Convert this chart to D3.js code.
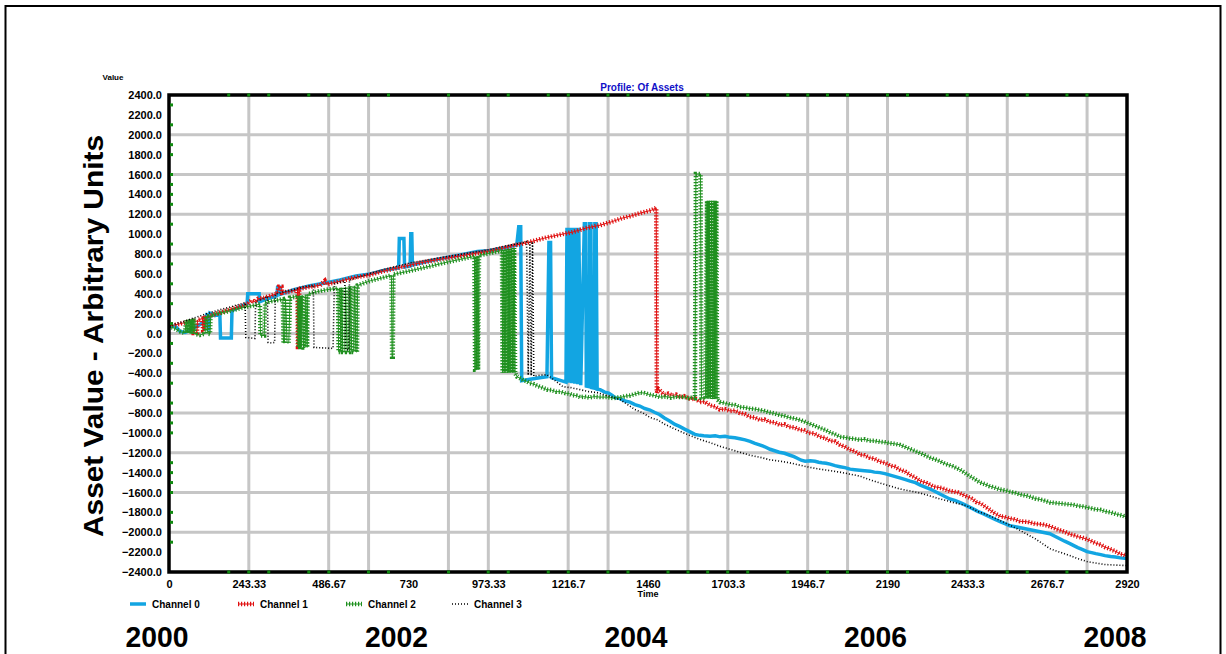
<!DOCTYPE html>
<html><head><meta charset="utf-8">
<script src="https://cdn.jsdelivr.net/npm/d3@7/dist/d3.min.js"></script>
<style>body{margin:0;background:#fff;} svg{display:block;font-family:"Liberation Sans",Arial,sans-serif;}</style>
</head><body>
<svg id="c" width="1226" height="654"></svg>
<script>
// ---------- DATA ----------
const xTickValues = [0,243.33,486.67,730,973.33,1216.67,1460,1703.33,1946.67,2190,2433.33,2676.67,2920];
const xTickLabels = ["0","243.33","486.67","730","973.33","1216.7","1460","1703.3","1946.7","2190","2433.3","2676.7","2920"];
const yTickValues = [-2400,-2200,-2000,-1800,-1600,-1400,-1200,-1000,-800,-600,-400,-200,0,200,400,600,800,1000,1200,1400,1600,1800,2000,2200,2400];
const hGridValues = [-2000,-1600,-1200,-800,-400,0,400,800,1200,1600,2000];
const vGridDays = [243.3,486.7,608.3,851.7,973.3,1216.7,1338.3,1581.7,1703.3,1946.7,2068.3,2190,2433.3,2555,2798.3];
const minorXDays = [182,243,304,426,487,608,669,852,973,1034,1156,1217,1338,1399,1521,1582,1642,1703,1764,1886,1947,2007,2068,2190,2251,2372,2433,2555,2616,2737,2798];
const minorYValues = [2300,2100,1900,1800,1600,1500,1400,1300,1100,900,700,500,300,100,-100,-300,-500,-700,-800,-900,-1000,-1300,-1400,-1500,-1600,-1800,-1900,-2100];
const yearLabels = ["2000","2002","2004","2006","2008"];
const yearDays = [0,730,1460,2190,2920];
const seriesNames = ["Channel 0","Channel 1","Channel 2","Channel 3"];

const blueData = [[0,75],[20,70],[34,20],[49,10],[64,30],[79,60],[94,90],[110,120],[116,205],[120,30],[125,205],[140,180],[155,200],[157,-45],[190,-45],[192,230],[210,260],[232,290],[238,300],[240,400],[275,400],[277,320],[300,350],[329,380],[331,465],[338,465],[340,395],[380,440],[430,480],[480,510],[521,540],[570,580],[613,600],[660,640],[700,660],[702,955],[716,955],[718,670],[735,680],[737,1005],[740,1005],[742,690],[780,720],[830,755],[887,790],[940,825],[978,835],[1020,860],[1060,890],
[1066,1075],[1072,1075],[1075,-475],[1100,-460],[1130,-445],[1152,-435],[1158,915],[1163,915],[1166,-445],[1200,-480],[1210,-490],
[1213,1065],[1219,-495],[1222,1065],[1228,-500],[1231,1065],[1237,-505],[1240,1065],[1246,-510],[1249,1065],[1255,-520],
[1266,1105],[1270,1105],[1272,-530],[1280,-535],[1282,1105],[1286,1105],[1288,-545],[1296,-550],[1298,1105],[1302,1105],[1305,-560],
[1314,-565],[1328,-590],[1340,-600],[1352,-625],[1359,-645],[1375,-655],[1390,-680],[1405,-690],[1420,-715],[1435,-730],[1450,-755],[1466,-770],[1481,-795],[1495,-815],[1510,-850],[1526,-880],[1542,-915],[1556,-935],[1570,-960],[1588,-990],[1603,-1015],[1618,-1025],[1630,-1030],[1649,-1035],[1665,-1030],[1680,-1040],[1695,-1035],[1710,-1045],[1725,-1050],[1740,-1060],[1756,-1070],[1771,-1085],[1786,-1105],[1800,-1120],[1816,-1140],[1832,-1165],[1846,-1180],[1860,-1195],[1876,-1205],[1893,-1225],[1905,-1240],[1915,-1255],[1927,-1275],[1939,-1285],[1955,-1280],[1969,-1285],[1980,-1295],[1990,-1300],[2003,-1305],[2015,-1315],[2030,-1330],[2045,-1340],[2060,-1350],[2076,-1365],[2090,-1370],[2105,-1375],[2120,-1380],[2137,-1385],[2150,-1395],[2167,-1400],[2182,-1410],[2198,-1425],[2214,-1440],[2230,-1455],[2245,-1470],[2259,-1485],[2275,-1500],[2290,-1525],[2305,-1545],[2320,-1565],[2335,-1590],[2350,-1615],[2365,-1640],[2380,-1665],[2395,-1680],[2410,-1700],[2420,-1715],[2432,-1735],[2448,-1760],[2465,-1790],[2483,-1815],[2502,-1845],[2518,-1870],[2535,-1895],[2550,-1915],[2563,-1935],[2580,-1945],[2595,-1955],[2610,-1965],[2625,-1975],[2640,-1985],[2655,-1995],[2670,-2005],[2685,-2015],[2700,-2040],[2715,-2065],[2730,-2090],[2746,-2115],[2758,-2135],[2770,-2155],[2785,-2175],[2798,-2195],[2812,-2205],[2825,-2215],[2840,-2225],[2853,-2235],[2870,-2245],[2885,-2250],[2900,-2258],[2920,-2265]];

const redData = [[0,75],[30,95],[55,115],[73,125],[75,5],[85,5],[87,135],[102,150],[104,30],[108,30],[110,160],[140,195],[170,225],[200,255],[226,280],[240,300],[250,330],[262,320],[272,350],[290,360],[310,380],[329,400],[335,470],[343,470],[345,410],[370,425],[392,440],[393,-135],[396,-135],[397,450],[430,470],[460,485],[475,530],[480,495],[521,525],[560,560],[613,590],[650,625],[704,665],[750,700],[796,730],[840,755],[887,780],[930,805],[978,830],[1020,860],[1050,885],[1079,905],[1110,930],[1150,965],[1192,995],[1230,1020],[1270,1060],[1314,1090],[1350,1125],[1380,1160],[1405,1180],[1440,1215],[1470,1240],[1485,1265],
[1487,-595],[1492,-560],[1497,-575],[1505,-600],[1512,-615],[1522,-605],[1535,-625],[1546,-615],[1558,-640],[1570,-630],[1590,-660],[1604,-655],[1618,-690],[1632,-685],[1650,-725],[1664,-735],[1679,-765],[1694,-760],[1710,-780],[1725,-775],[1740,-800],[1755,-810],[1770,-840],[1785,-845],[1801,-870],[1815,-865],[1830,-890],[1846,-895],[1862,-920],[1876,-915],[1890,-940],[1906,-945],[1923,-970],[1936,-975],[1950,-1000],[1966,-1005],[1984,-1040],[2000,-1050],[2015,-1080],[2030,-1085],[2045,-1120],[2060,-1140],[2075,-1170],[2090,-1185],[2106,-1220],[2120,-1225],[2135,-1250],[2150,-1260],[2167,-1290],[2182,-1300],[2198,-1330],[2212,-1340],[2228,-1370],[2244,-1390],[2260,-1425],[2275,-1450],[2290,-1485],[2310,-1505],[2330,-1540],[2355,-1555],[2380,-1585],[2405,-1600],[2432,-1640],[2446,-1660],[2460,-1695],[2474,-1710],[2487,-1740],[2498,-1765],[2510,-1795],[2520,-1815],[2533,-1840],[2546,-1845],[2560,-1860],[2577,-1870],[2594,-1890],[2617,-1895],[2640,-1915],[2662,-1920],[2685,-1940],[2700,-1960],[2715,-1980],[2730,-1995],[2746,-2020],[2758,-2030],[2770,-2045],[2784,-2055],[2798,-2070],[2812,-2090],[2825,-2110],[2840,-2125],[2853,-2150],[2866,-2165],[2880,-2185],[2890,-2200],[2899,-2220],[2910,-2225],[2920,-2240]];

const greenData = [[0,75],[18,50],[34,20],[49,5],[52,135],[56,5],[60,140],[64,0],[68,145],[72,0],[76,150],[79,-5],[94,-15],[110,0],[112,170],[116,170],[118,0],[125,-5],[127,180],[140,195],[155,205],[170,215],[200,240],[230,265],[262,285],[277,295],[279,-20],[290,-20],[293,310],[320,330],[347,345],[349,-95],[352,-95],[355,350],[360,-95],[365,-95],[369,360],[393,375],[394,-135],[397,-135],[399,380],[400,-135],[404,-135],[406,385],[410,-140],[415,-140],[417,390],[421,-140],[423,395],[450,420],[480,440],[515,455],[517,-185],[523,-185],[525,460],[530,-185],[536,-185],[538,470],[543,-185],[550,-185],[552,475],[557,-185],[563,-185],[565,480],[570,-185],[573,-185],[575,485],
[613,530],[650,560],[678,585],[680,-235],[682,-235],[684,595],[720,620],[760,650],[800,680],[850,720],[900,755],[931,775],[933,-365],[937,-365],[939,780],[942,-365],[945,785],[980,810],[1015,835],
[1017,-395],[1020,840],[1024,-395],[1028,845],[1032,-395],[1036,850],[1040,-395],[1044,855],[1048,-395],[1052,860],[1055,-400],
[1061,-435],[1070,-450],[1080,-470],[1090,-480],[1100,-500],[1112,-510],[1125,-530],[1138,-545],[1152,-565],[1166,-570],[1180,-585],[1193,-585],[1207,-600],[1220,-605],[1230,-620],[1242,-625],[1253,-640],[1266,-635],[1280,-645],[1297,-635],[1314,-640],[1334,-640],[1353,-650],[1367,-645],[1380,-640],[1392,-630],[1405,-625],[1420,-610],[1436,-595],[1450,-600],[1465,-615],[1481,-625],[1497,-640],[1513,-635],[1530,-645],[1545,-635],[1558,-640],[1572,-640],[1585,-650],[1595,-645],[1603,-650],
[1606,1605],[1620,1605],[1623,-650],[1635,-655],[1640,1335],[1643,-655],[1647,1335],[1650,-655],[1654,1335],[1657,-660],[1661,1335],[1664,-660],[1668,1335],[1671,-665],
[1679,-690],[1694,-700],[1710,-715],[1725,-720],[1740,-740],[1755,-745],[1770,-755],[1785,-760],[1801,-770],[1815,-780],[1830,-795],[1846,-805],[1862,-820],[1876,-830],[1890,-845],[1906,-855],[1923,-870],[1936,-885],[1950,-905],[1966,-925],[1984,-950],[2000,-970],[2015,-995],[2030,-1015],[2045,-1040],[2060,-1045],[2075,-1055],[2090,-1060],[2106,-1070],[2120,-1065],[2135,-1080],[2150,-1080],[2167,-1090],[2182,-1095],[2198,-1105],[2212,-1110],[2228,-1120],[2250,-1150],[2275,-1185],[2298,-1215],[2320,-1250],[2342,-1275],[2365,-1310],[2388,-1335],[2411,-1370],[2425,-1400],[2440,-1435],[2456,-1465],[2472,-1500],[2486,-1515],[2500,-1535],[2516,-1550],[2533,-1570],[2550,-1580],[2565,-1595],[2580,-1605],[2594,-1620],[2617,-1635],[2640,-1660],[2662,-1675],[2685,-1700],[2700,-1705],[2715,-1710],[2730,-1715],[2746,-1720],[2758,-1725],[2770,-1735],[2784,-1740],[2798,-1750],[2812,-1760],[2825,-1770],[2840,-1775],[2853,-1790],[2870,-1800],[2890,-1820],[2905,-1830],[2920,-1850]];

const blackData = [[0,75],[20,100],[45,120],[70,150],[94,175],[120,205],[150,235],[180,260],[210,290],[232,310],
[234,-40],[250,-45],[262,-50],[264,320],[285,350],[300,375],[302,-90],[312,-95],[322,-90],[324,395],
[350,420],[380,440],[410,470],[440,485],[442,-140],[470,-145],[500,-150],[504,500],
[520,515],[536,525],[538,-160],[548,-165],[550,535],
[580,570],[613,605],[650,640],[680,665],[704,685],[740,715],[770,730],[796,745],[830,765],[860,780],[887,795],[920,815],[950,830],[978,845],[1010,870],[1040,890],[1079,915],[1090,925],
[1095,-420],[1100,920],[1104,-425],[1108,925],[1112,-430],
[1130,-420],[1152,-415],[1175,-470],[1201,-535],[1225,-545],[1253,-565],[1280,-585],[1305,-595],[1340,-630],[1375,-665],[1400,-720],[1420,-765],[1445,-800],[1466,-845],[1490,-870],[1512,-915],[1535,-950],[1558,-985],[1590,-1030],[1618,-1065],[1650,-1100],[1679,-1135],[1710,-1165],[1740,-1195],[1770,-1225],[1801,-1245],[1830,-1270],[1862,-1285],[1890,-1300],[1923,-1325],[1950,-1345],[1984,-1365],[2015,-1380],[2045,-1395],[2075,-1415],[2106,-1435],[2135,-1470],[2167,-1505],[2198,-1535],[2228,-1565],[2260,-1585],[2289,-1605],[2320,-1635],[2350,-1665],[2390,-1700],[2432,-1735],[2465,-1790],[2502,-1835],[2545,-1900],[2585,-1965],[2615,-2020],[2640,-2065],[2665,-2120],[2685,-2165],[2715,-2200],[2746,-2235],[2770,-2265],[2798,-2295],[2825,-2310],[2853,-2325],[2885,-2330],[2920,-2335]];

// ---------- CHART ----------
const svg = d3.select("#c");
const L = 169, R = 1127, T = 95, B = 572;
const x = d3.scaleLinear().domain([0, 2920]).range([L, R]);
const y = d3.scaleLinear().domain([-2400, 2400]).range([B, T]);

// outer frame
svg.append("rect").attr("x", 5.5).attr("y", 6).attr("width", 1215).attr("height", 700)
  .attr("fill", "none").attr("stroke", "#000").attr("stroke-width", 2);

// grid
const grid = svg.append("g");
grid.selectAll(".h").data(hGridValues).join("line")
  .attr("x1", L).attr("x2", R).attr("y1", d => y(d)).attr("y2", d => y(d))
  .attr("stroke", "#c6c6c6").attr("stroke-width", 3);
grid.selectAll(".v").data(vGridDays).join("line")
  .attr("y1", T).attr("y2", B).attr("x1", d => x(d)).attr("x2", d => x(d))
  .attr("stroke", "#c6c6c6").attr("stroke-width", 3);

// clip
svg.append("clipPath").attr("id", "clip").append("rect")
  .attr("x", L).attr("y", T).attr("width", R - L).attr("height", B - T);

const line = d3.line().x(d => x(d[0])).y(d => y(d[1]));
const plot = svg.append("g").attr("clip-path", "url(#clip)");

const styles = [
  [{stroke: "#12a5e2", w: 3.5, dash: null}],
  [{stroke: "#e01010", w: 1, dash: null}, {stroke: "#e01010", w: 4.5, dash: "1.2,1.8"}],
  [{stroke: "#2a9a2a", w: 1, dash: null}, {stroke: "#1f8f1f", w: 4.5, dash: "1.2,1.8"}],
  [{stroke: "#000", w: 1.6, dash: "1,2"}]
];
const allData = [blueData, redData, greenData, blackData];
allData.forEach((data, i) => {
  styles[i].forEach(s => {
    plot.append("path").datum(data).attr("d", line)
      .attr("fill", "none").attr("stroke", s.stroke).attr("stroke-width", s.w)
      .attr("stroke-dasharray", s.dash).attr("stroke-linejoin", "miter");
  });
});

// plot frame
svg.append("rect").attr("x", L).attr("y", T).attr("width", R - L).attr("height", B - T)
  .attr("fill", "none").attr("stroke", "#000").attr("stroke-width", 3.5);

// minor green dots
const dots = svg.append("g").attr("fill", "#108a10");
minorXDays.forEach(d => {
  dots.append("rect").attr("x", x(d) - 1.5).attr("y", B - 1.5).attr("width", 3).attr("height", 3);
  dots.append("rect").attr("x", x(d) - 1.5).attr("y", T - 1.5).attr("width", 3).attr("height", 3);
});
minorYValues.forEach(v => {
  dots.append("rect").attr("x", L + 1).attr("y", y(v) - 1.5).attr("width", 3).attr("height", 3);
});

// y axis labels
const yAxis = d3.axisLeft(y).tickValues(yTickValues).tickSize(0).tickPadding(7)
  .tickFormat(d => d3.format(".1f")(d));
const gy = svg.append("g").attr("transform", `translate(${L},0)`).call(yAxis);
gy.select(".domain").remove();
gy.selectAll("text").attr("font-size", 11).attr("font-weight", "bold").attr("fill", "#000")
  .attr("font-family", "Liberation Sans, Arial, sans-serif");

// x axis labels
const xAxis = d3.axisBottom(x).tickValues(xTickValues).tickSize(0).tickPadding(8)
  .tickFormat((d, i) => xTickLabels[i]);
const gx = svg.append("g").attr("transform", `translate(0,${B})`).call(xAxis);
gx.select(".domain").remove();
gx.selectAll("text").attr("font-size", 11).attr("font-weight", "bold").attr("fill", "#000")
  .attr("font-family", "Liberation Sans, Arial, sans-serif");

// axis captions
svg.append("text").attr("x", x(1460)).attr("y", 597).attr("text-anchor", "middle")
  .attr("font-size", 9).attr("font-weight", "bold").text("Time");
svg.append("text").attr("x", 113).attr("y", 80).attr("text-anchor", "middle")
  .attr("font-size", 8).attr("font-weight", "bold").text("Value");
svg.append("text").attr("x", 642).attr("y", 91).attr("text-anchor", "middle")
  .attr("font-size", 10).attr("font-weight", "bold").attr("fill", "#1010c8").text("Profile: Of Assets");

// y title
svg.append("text").attr("transform", "translate(103,336) rotate(-90)").attr("text-anchor", "middle")
  .attr("font-size", 28).attr("font-weight", "bold")
  .attr("textLength", 402).attr("lengthAdjust", "spacingAndGlyphs")
  .text("Asset Value - Arbitrary Units");

// year labels
svg.selectAll(".yr").data(yearDays).join("text")
  .attr("x", d => x(d) - 12).attr("y", 647).attr("text-anchor", "middle")
  .attr("font-size", 30).attr("font-weight", "bold")
  .attr("textLength", 63).attr("lengthAdjust", "spacingAndGlyphs")
  .text((d, i) => yearLabels[i]);

// legend
const legX = [130, 238, 346, 452];
const lg = svg.append("g");
seriesNames.forEach((name, i) => {
  const g = lg.append("g").attr("transform", `translate(${legX[i]},604)`);
  styles[i].forEach(s => {
    g.append("line").attr("x1", 0).attr("x2", 16).attr("y1", 0).attr("y2", 0)
      .attr("stroke", s.stroke).attr("stroke-width", s.w).attr("stroke-dasharray", s.dash);
  });
  g.append("text").attr("x", 22).attr("y", 3.5).attr("font-size", 10).attr("font-weight", "bold").text(name);
});
</script>
</body></html>
